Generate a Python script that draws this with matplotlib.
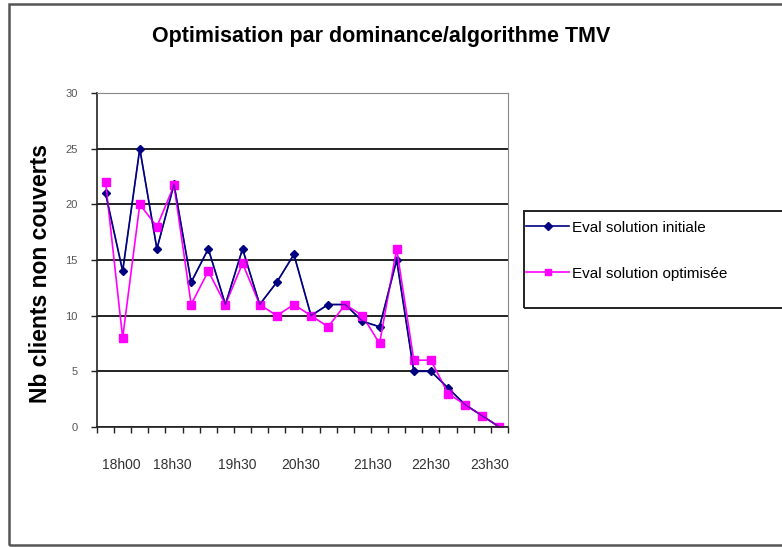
import matplotlib.pyplot as plt
from matplotlib.patches import Rectangle

# Creneaux horaires (24 evaluations par quart d'heure)
creneaux = list(range(24))
eval_initiale = [21, 14, 25, 16, 21.8, 13, 16, 11, 16, 11, 13, 15.5,
                 10, 11, 11, 9.5, 9, 15, 5, 5, 3.5, 2, 1, 0]
eval_optimisee = [22, 8, 20, 18, 21.7, 11, 14, 11, 14.7, 11, 10, 11,
                  10, 9, 11, 10, 7.5, 16, 6, 6, 3, 2, 1, 0]

tick_labels = ['18h00', '18h30', '19h30', '20h30', '21h30', '22h30', '23h30']
tick_pos = [0.9, 3.9, 7.7, 11.4, 15.6, 19.0, 22.45]

plt.rcParams['font.family'] = ['Liberation Sans', 'DejaVu Sans']

fig = plt.figure(figsize=(7.82, 5.47), dpi=100)
fig.patch.set_facecolor('white')

# cadre gris autour du graphique
fig.patches.append(Rectangle((0.011, 0.003), 1.2, 0.989, transform=fig.transFigure,
                             fill=False, edgecolor='#555555', linewidth=1.8))
# cadre de la legende (coupe a droite)
fig.patches.append(Rectangle((0.670, 0.437), 0.36, 0.177, transform=fig.transFigure,
                             fill=False, edgecolor='#222222', linewidth=1.4))

ax = fig.add_axes([0.124, 0.2194, 0.5256, 0.6106])
ax.plot(creneaux, eval_initiale, color='#000080', marker='D', markersize=4.5,
        linewidth=1.2, label='Eval solution initiale')
ax.plot(creneaux, eval_optimisee, color='#FF00FF', marker='s', markersize=5.5,
        linewidth=1.2, label='Eval solution optimisée')
# redessiner la serie initiale par-dessus pour garder ses traits visibles
ax.plot(creneaux, eval_initiale, color='#000080', linewidth=1.0, alpha=0.6)

ax.set_xlim(-0.5, 23.5)
ax.set_ylim(0, 30)
ax.set_yticks(range(0, 31, 5))
ax.yaxis.grid(True, color='#222222', linewidth=1.4)
ax.set_axisbelow(True)

# graduations entre categories, etiquettes espacees
ax.set_xticks([i - 0.5 for i in range(25)])
ax.set_xticklabels([])
ax.set_xticks(tick_pos, minor=True)
ax.set_xticklabels(tick_labels, minor=True)
ax.tick_params(axis='x', which='major', direction='out', length=4, width=1, color='#222222')
ax.tick_params(axis='x', which='minor', length=0, pad=22, labelsize=10, labelcolor='#333333')
ax.tick_params(axis='y', direction='out', length=4, width=1, color='#222222',
               labelsize=8, labelcolor='#555555', pad=10)

ax.spines['left'].set_color('#222222')
ax.spines['bottom'].set_color('#222222')
ax.spines['left'].set_linewidth(1.2)
ax.spines['bottom'].set_linewidth(1.2)
ax.spines['top'].set_color('#888888')
ax.spines['right'].set_color('#888888')

ax.set_ylabel('Nb clients non couverts', fontsize=16.5, fontweight='bold')
ax.yaxis.set_label_coords(-0.109, 0.46)

fig.text(0.487, 0.934, 'Optimisation par dominance/algorithme TMV',
         ha='center', va='center', fontsize=15.5, fontweight='bold')

leg = fig.legend(loc='upper left', bbox_to_anchor=(0.665, 0.608), fontsize=11,
                 frameon=False, labelspacing=2.1, handlelength=2.8, borderpad=0.4,
                 handletextpad=0.2, borderaxespad=0)
for line in leg.get_lines():
    line.set_markersize(4)

fig.savefig('out.png', dpi=100, facecolor='white')
